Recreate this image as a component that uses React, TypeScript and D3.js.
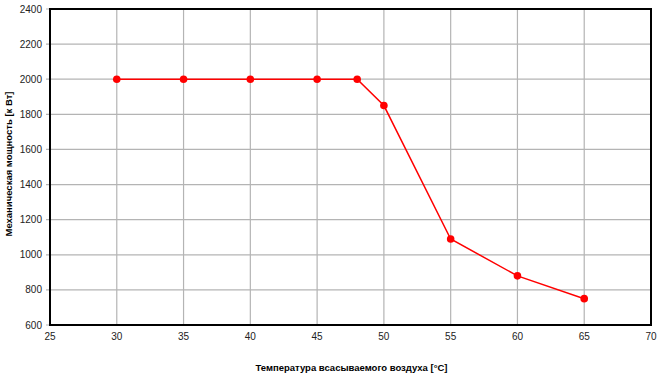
import React, { useEffect, useRef } from 'react';
import * as d3 from 'd3';

// temperature of intake air, °C
const temps = [30, 35, 40, 45, 48, 50, 55, 60, 65];
// mechanical power, kW
const power = [2000, 2000, 2000, 2000, 2000, 1850, 1090, 880, 750];

const xTicks = [25, 30, 35, 40, 45, 50, 55, 60, 65, 70];
const yTicks = [600, 800, 1000, 1200, 1400, 1600, 1800, 2000, 2200, 2400];

const xTitle = 'Температура всасываемого воздуха [°C]';
const yTitle = 'Механическая мощность [к Вт]';

const W = 660,
  H = 375;
const margin = { top: 9, right: 9, bottom: 50, left: 50 };

const App = () => {
  const ref = useRef<SVGSVGElement>(null);

  useEffect(() => {
    const svg = d3.select(ref.current);
    svg.selectAll('*').remove();

    const x = d3.scaleLinear().domain([25, 70]).range([margin.left, W - margin.right]);
    const y = d3.scaleLinear().domain([600, 2400]).range([H - margin.bottom, margin.top]);

    const font = 'Liberation Sans, Arial, sans-serif';

    // grid lines
    const grid = svg.append('g');
    grid
      .selectAll('line.vx')
      .data(xTicks)
      .enter()
      .append('line')
      .attr('x1', d => x(d))
      .attr('x2', d => x(d))
      .attr('y1', y(600))
      .attr('y2', y(2400))
      .style('stroke', '#b4b4b4')
      .style('stroke-width', 1.2);
    grid
      .selectAll('line.hy')
      .data(yTicks)
      .enter()
      .append('line')
      .attr('x1', x(25) - 4)
      .attr('x2', x(70))
      .attr('y1', d => y(d))
      .attr('y2', d => y(d))
      .style('stroke', '#b4b4b4')
      .style('stroke-width', 1.2);

    // frame
    svg
      .append('rect')
      .attr('x', x(25))
      .attr('y', y(2400))
      .attr('width', x(70) - x(25))
      .attr('height', y(600) - y(2400))
      .style('fill', 'none')
      .style('stroke', '#000')
      .style('stroke-width', 2);

    // tick labels
    svg
      .append('g')
      .selectAll('text')
      .data(xTicks)
      .enter()
      .append('text')
      .attr('x', d => x(d))
      .attr('y', y(600) + 15)
      .attr('text-anchor', 'middle')
      .style('font-family', font)
      .style('font-size', '10px')
      .style('fill', '#222')
      .text(d => d);
    svg
      .append('g')
      .selectAll('text')
      .data(yTicks)
      .enter()
      .append('text')
      .attr('x', x(25) - 8)
      .attr('y', d => y(d))
      .attr('dy', '0.35em')
      .attr('text-anchor', 'end')
      .style('font-family', font)
      .style('font-size', '10px')
      .style('fill', '#222')
      .text(d => d);

    // axis titles
    svg
      .append('text')
      .attr('x', (x(25) + x(70)) / 2 + 1)
      .attr('y', 371)
      .attr('text-anchor', 'middle')
      .style('font-family', font)
      .style('font-size', '9.5px')
      .style('font-weight', 'bold')
      .text(xTitle);
    svg
      .append('text')
      .attr('transform', `translate(12,${(y(600) + y(2400)) / 2 - 3}) rotate(-90)`)
      .attr('text-anchor', 'middle')
      .style('font-family', font)
      .style('font-size', '9.5px')
      .style('font-weight', 'bold')
      .text(yTitle);

    // the curve
    const pts = temps.map((t, i) => [t, power[i]] as [number, number]);
    const line = d3
      .line<[number, number]>()
      .x(d => x(d[0]))
      .y(d => y(d[1]));
    svg
      .append('path')
      .datum(pts)
      .attr('d', line)
      .style('fill', 'none')
      .style('stroke', '#ff0000')
      .style('stroke-width', 1.5);
    svg
      .append('g')
      .selectAll('circle')
      .data(pts)
      .enter()
      .append('circle')
      .attr('cx', d => x(d[0]))
      .attr('cy', d => y(d[1]))
      .attr('r', 3.8)
      .style('fill', '#ff0000');
  }, []);

  return (
    <svg
      ref={ref}
      width={W}
      height={H}
      style={{ position: 'absolute', left: 0, top: 0, background: '#fff' }}
    />
  );
};

export default App;
